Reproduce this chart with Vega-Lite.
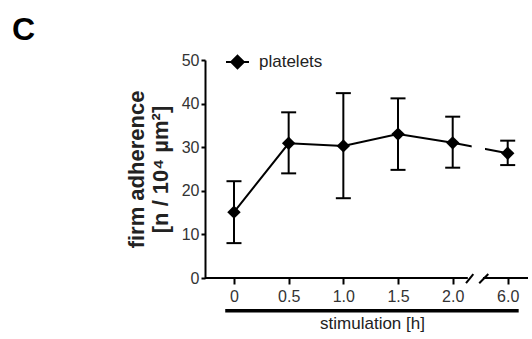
{
  "$schema": "https://vega.github.io/schema/vega-lite/v6.json",
  "width": 323,
  "height": 218,
  "autosize": {"type": "none"},
  "padding": {"left": 205, "top": 60, "right": 4, "bottom": 61},
  "background": "white",
  "config": {
    "view": {"stroke": null},
    "font": "Liberation Sans",
    "axis": {"grid": false}
  },
  "title": {
    "text": "C",
    "anchor": "start",
    "frame": "group",
    "fontSize": 32,
    "fontWeight": "bold",
    "color": "black",
    "baseline": "alphabetic",
    "offset": 20,
    "dx": -193,
    "dy": 42.5
  },
  "data": {
    "values": [
      {"time": 0, "mean": 15.1, "lo": 8.0, "hi": 22.2, "series": "platelets"},
      {"time": 0.5, "mean": 30.9, "lo": 24.0, "hi": 38.0, "series": "platelets"},
      {"time": 1.0, "mean": 30.3, "lo": 18.3, "hi": 42.4, "series": "platelets"},
      {"time": 1.5, "mean": 33.0, "lo": 24.8, "hi": 41.2, "series": "platelets"},
      {"time": 2.0, "mean": 31.0, "lo": 25.3, "hi": 37.0, "series": "platelets"},
      {"time": 6.0, "mean": 28.6, "lo": 25.9, "hi": 31.5, "series": "platelets"}
    ]
  },
  "encoding": {
    "y": {
      "type": "quantitative",
      "scale": {"domain": [0, 50], "nice": false},
      "axis": {
        "values": [0, 10, 20, 30, 40, 50],
        "domainColor": "black",
        "domainWidth": 2,
        "tickSize": 4,
        "tickWidth": 2,
        "tickColor": "black",
        "labelFontSize": 16,
        "labelColor": "#333",
        "labelPadding": 2,
        "title": ["firm adherence", "[n / 10⁴ µm²]"],
        "titleFontSize": 22,
        "titleFontWeight": "bold",
        "titleColor": "#222",
        "titleLineHeight": 24,
        "titlePadding": 9
      }
    }
  },
  "layer": [
    {
      "mark": {"type": "line", "color": "black", "strokeWidth": 2},
      "encoding": {
        "x": {
          "field": "time",
          "type": "quantitative",
          "scale": {"domain": [-0.265, 2, 6, 6.185], "range": [0, 247.7, 302.7, 323], "nice": false, "zero": false},
          "axis": {
            "values": [0, 0.5, 1, 1.5, 2, 6],
            "labelExpr": "datum.value == 0 ? '0' : format(datum.value, '.1f')",
            "domain": false,
            "tickSize": 6,
            "tickWidth": 2,
            "tickColor": "black",
            "labelFontSize": 16,
            "labelColor": "#333",
            "labelPadding": 4,
            "title": "stimulation [h]",
            "titleFontSize": 17,
            "titleFontWeight": "normal",
            "titleColor": "#222",
            "titlePadding": 11,
            "titleX": 167
          }
        },
        "y": {"field": "mean", "type": "quantitative"}
      }
    },
    {
      "data": {"values": [{}]},
      "mark": {"type": "rect", "color": "white", "opacity": 1},
      "encoding": {
        "x": {"datum": 3.38, "type": "quantitative"},
        "x2": {"datum": 4.35},
        "y": {"datum": 26, "type": "quantitative"},
        "y2": {"datum": 33}
      }
    },
    {
      "data": {"values": [{"a": -0.265, "b": 3.1}, {"a": 4.2, "b": 6.185}]},
      "mark": {"type": "rule", "color": "black", "strokeWidth": 2},
      "encoding": {
        "x": {"field": "a", "type": "quantitative"},
        "x2": {"field": "b"},
        "y": {"datum": 0, "type": "quantitative"}
      }
    },
    {
      "data": {"values": [{"a": 2.97, "b": 3.5}, {"a": 3.93, "b": 4.59}]},
      "mark": {"type": "rule", "color": "black", "strokeWidth": 2},
      "encoding": {
        "x": {"field": "a", "type": "quantitative"},
        "x2": {"field": "b"},
        "y": {"datum": -1.2, "type": "quantitative"},
        "y2": {"datum": 0.9}
      }
    },
    {
      "mark": {"type": "rule", "color": "black", "strokeWidth": 2},
      "encoding": {
        "x": {"field": "time", "type": "quantitative"},
        "y": {"field": "lo", "type": "quantitative"},
        "y2": {"field": "hi"}
      }
    },
    {
      "mark": {"type": "tick", "orient": "horizontal", "color": "black", "size": 15, "thickness": 2, "opacity": 1},
      "encoding": {
        "x": {"field": "time", "type": "quantitative"},
        "y": {"field": "lo", "type": "quantitative"}
      }
    },
    {
      "mark": {"type": "tick", "orient": "horizontal", "color": "black", "size": 15, "thickness": 2, "opacity": 1},
      "encoding": {
        "x": {"field": "time", "type": "quantitative"},
        "y": {"field": "hi", "type": "quantitative"}
      }
    },
    {
      "mark": {"type": "point", "shape": "diamond", "filled": true, "size": 180, "opacity": 1},
      "encoding": {
        "x": {"field": "time", "type": "quantitative"},
        "y": {"field": "mean", "type": "quantitative"},
        "color": {
          "field": "series",
          "type": "nominal",
          "scale": {"domain": ["platelets"], "range": ["black"]},
          "legend": {
            "title": null,
            "orient": "none",
            "legendX": 20,
            "legendY": -10.5,
            "padding": 0,
            "symbolType": "M-1,0L1,0M0,-0.55L0.55,0L0,0.55L-0.55,0Z",
            "symbolSize": 529,
            "symbolFillColor": "black",
            "symbolStrokeColor": "black",
            "symbolStrokeWidth": 2,
            "labelFontSize": 17,
            "labelColor": "#222",
            "labelOffset": 9
          }
        }
      }
    },
    {
      "data": {"values": [{}]},
      "mark": {"type": "rule", "color": "black", "strokeWidth": 3.5},
      "encoding": {
        "x": {"datum": -0.08, "type": "quantitative"},
        "x2": {"datum": 6.1},
        "y": {"datum": -7.5, "type": "quantitative"}
      }
    }
  ]
}
